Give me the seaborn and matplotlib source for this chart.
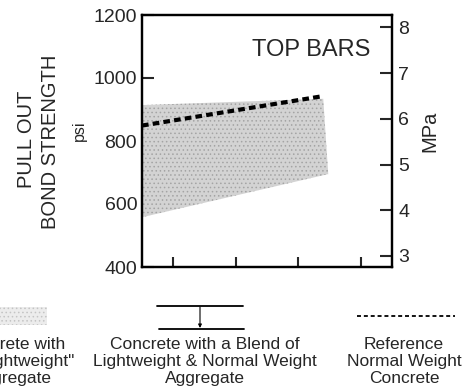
import numpy as np
import pandas as pd
import matplotlib
matplotlib.use("Agg")
import matplotlib.pyplot as plt
from matplotlib.lines import Line2D
from matplotlib.patches import Rectangle
import seaborn as sns

# ---- data ----
band_x = [0.0, 2.90, 2.98, 0.0]          # shaded band outline (x position, arbitrary units)
band_psi = [914, 934, 695, 558]           # psi
ref_x = [0.0, 2.88]                       # reference normal weight concrete line
ref_psi = [849, 942]                      # psi
psi_ticks = [400, 600, 800, 1000, 1200]
mpa_ticks = [3, 4, 5, 6, 7, 8]
x_ticks = [0.5, 1.5, 2.5, 3.5]
legend_labels = ['Concrete with\n"All-Lightweight"\nAggregate',
                 'Concrete with a Blend of\nLightweight & Normal Weight\nAggregate',
                 'Reference\nNormal Weight\nConcrete']
title_text = "TOP BARS"

sns.set_style("white")
plt.rcParams['font.family'] = ['Liberation Sans', 'DejaVu Sans']
plt.rcParams['hatch.linewidth'] = 0.6

W, H = 465, 392
fig = plt.figure(figsize=(W / 100, H / 100), dpi=100)

def fx(px):
    return px / W

def fy(py):
    return 1 - py / H

ax = fig.add_axes([fx(142), fy(267), fx(392) - fx(142), fy(15) - fy(267)])
ax.set_xlim(0, 4)
ax.set_ylim(400, 1200)

band_face = '#d3d3d3'
band_hatch = '#a4a4a4'
ax.fill(band_x, band_psi, facecolor=band_face, edgecolor=band_hatch, linewidth=0,
        hatch='....', zorder=1)

df = pd.DataFrame({"x": ref_x, "psi": ref_psi})
sns.lineplot(data=df, x="x", y="psi", ax=ax, color='black', linewidth=3.0,
             zorder=3)
ax.lines[-1].set_dashes((1.6, 1.0))
ax.lines[-1].set_dash_capstyle('butt')

ax.set_xlabel("")
ax.set_ylabel("")
ax.set_xticks(x_ticks)
ax.set_xticklabels([])
ax.set_yticks(psi_ticks)
ax.set_yticklabels([str(v) for v in psi_ticks], fontsize=14)
ax.tick_params(axis='y', direction='in', length=8.5, width=1.5, pad=3.5, left=True)
ax.tick_params(axis='x', direction='in', length=7.5, width=1.5, bottom=True)
for s in ax.spines.values():
    s.set_linewidth(1.6)
    s.set_color('black')

ax2 = ax.twinx()
ax2.set_ylim(400 / 145.04, 1200 / 145.04)
ax2.set_yticks(mpa_ticks)
ax2.set_yticklabels([str(v) for v in mpa_ticks], fontsize=14)
ax2.tick_params(axis='y', direction='in', length=8.5, width=1.5, pad=4.5, right=True)
for s in ax2.spines.values():
    s.set_linewidth(1.6)
    s.set_color('black')

fig.text(fx(311), fy(50), title_text, fontsize=17, ha='center', va='center')

# y labels
fig.text(fx(27), fy(139), "PULL OUT", fontsize=14.5, rotation=90, ha='center', va='center')
fig.text(fx(50), fy(142), "BOND STRENGTH", fontsize=14.5, rotation=90, ha='center', va='center')
fig.text(fx(79), fy(131), "psi", fontsize=11.5, rotation=90, ha='center', va='center')
fig.text(fx(430), fy(131), "MPa", fontsize=14.5, rotation=90, ha='center', va='center')

# legend area
lax = fig.add_axes([0, 0, 1, fy(280)])
lax.set_xlim(0, W)
lax.set_ylim(H, 280)
lax.axis('off')
lax.add_patch(Rectangle((0, 307), 47, 18, facecolor='#ececec', edgecolor='#c4c4c4',
                        linewidth=0, hatch='....'))
lax.add_line(Line2D([157, 243], [306, 306], color='black', linewidth=1.3))
lax.add_line(Line2D([159, 244], [329, 329], color='black', linewidth=1.3))
lax.annotate("", xy=(200, 328), xytext=(200, 307),
             arrowprops=dict(arrowstyle='-|>', color='black', lw=0.8,
                             mutation_scale=5, shrinkA=0, shrinkB=0))
lax.add_line(Line2D([357, 455], [316, 316], color='black', linewidth=1.3,
                    dashes=(2.2, 1.6)))

for cx, lab in zip([12, 205, 404], legend_labels):
    lax.text(cx, 337, lab, fontsize=12.5, ha='center', va='top', linespacing=1.15)

fig.savefig("out.png", dpi=100)
